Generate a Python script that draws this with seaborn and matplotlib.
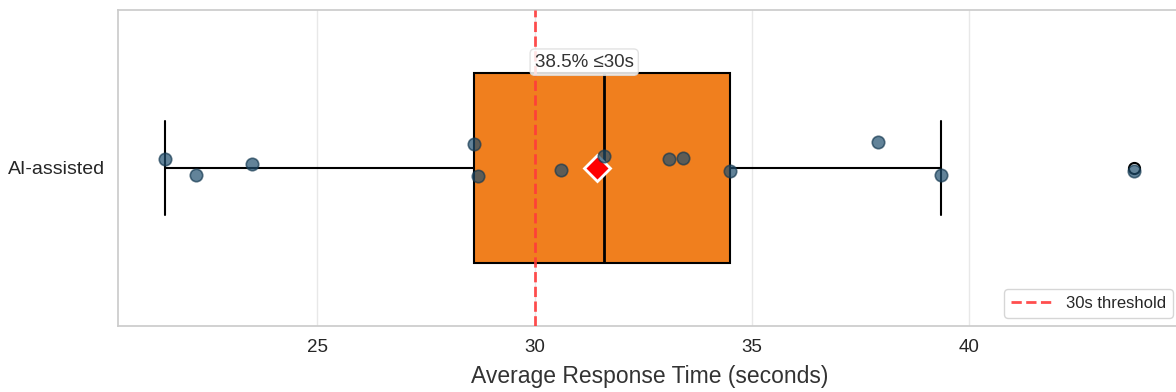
import numpy as np
import pandas as pd
import matplotlib
matplotlib.use("Agg")
import matplotlib.pyplot as plt
import seaborn as sns

# Per-participant average response times (seconds)
group_name = "AI-assisted"
response_times = [21.5, 22.2, 23.5, 28.6, 28.7, 30.6, 31.6, 33.1, 33.4, 34.5, 37.9, 39.35, 43.8]
# vertical spread of the individual points around the category line
point_offsets = [-0.027, 0.022, -0.014, -0.077, 0.024, 0.005, -0.039, -0.027, -0.033, 0.010, -0.081, 0.022, 0.009]
threshold = 30

sns.set_theme(style="whitegrid")
plt.rcParams["font.family"] = ["Liberation Sans", "DejaVu Sans"]
plt.rcParams["grid.color"] = "#e8e8e8"

df = pd.DataFrame({"time": response_times, "group": [group_name] * len(response_times)})

fig, ax = plt.subplots(figsize=(11.76, 3.92), dpi=100)
fig.subplots_adjust(left=118 / 1176, right=1181 / 1176, top=1 - 10 / 392, bottom=1 - 326 / 392)

sns.boxplot(
    data=df, x="time", y="group", orient="h", ax=ax, width=0.6,
    color="#f07f1e", saturation=1,
    linecolor="black", linewidth=1.5,
    medianprops=dict(color="black", linewidth=2),
    flierprops=dict(marker="o", markerfacecolor="none", markeredgecolor="black",
                    markeredgewidth=1.5, markersize=8),
    showmeans=True,
    meanprops=dict(marker="D", markerfacecolor="red", markeredgecolor="white",
                   markeredgewidth=2, markersize=13),
)

ax.scatter(response_times, point_offsets, s=80, color="#1f4e6e", alpha=0.7,
           edgecolor="#163a52", linewidth=1.2, zorder=4)

ax.axvline(threshold, color="#ff3b3b", linestyle="--", linewidth=2, alpha=0.9,
           zorder=5, label=f"{threshold}s threshold")

share = np.mean(np.array(response_times) <= threshold) * 100
ax.text(threshold, -0.335, f"{share:.1f}% \u2264{threshold}s", ha="left", va="center",
        fontsize=13.5, color="#333333", zorder=6,
        bbox=dict(boxstyle="round,pad=0.25", facecolor="white", edgecolor="#dddddd", alpha=0.85))

ax.set_xlabel("Average Response Time (seconds)", fontsize=16.5, color="#333333", labelpad=6)
ax.set_ylabel("")
ax.tick_params(axis="x", labelsize=13.5)
ax.tick_params(axis="y", labelsize=14)
ax.set_xlim(20.41, 44.87)
ax.set_ylim(0.5, -0.5)
ax.set_xticks([25, 30, 35, 40])

leg = ax.legend(loc="lower right", fontsize=12, frameon=True, handlelength=2.5)

fig.savefig("out.png", dpi=100)
